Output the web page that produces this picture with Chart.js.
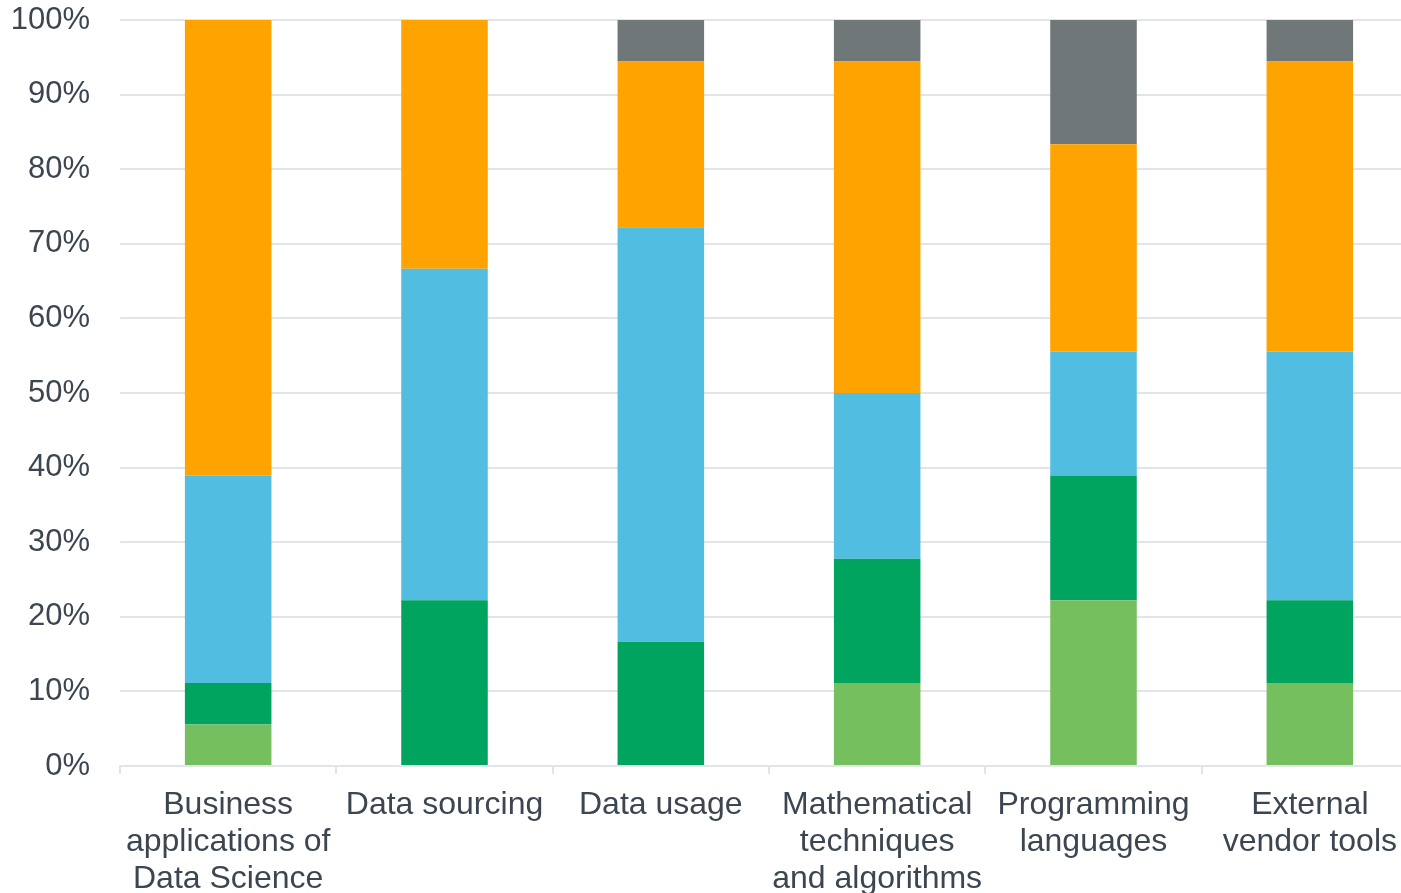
<!DOCTYPE html>
<html>
<head>
<meta charset="utf-8">
<script src="https://cdn.jsdelivr.net/npm/chart.js@4/dist/chart.umd.min.js"></script>
<style>
  html, body { margin: 0; padding: 0; background: #ffffff; }
  /* the original is cropped on the right: draw a bit wider and clip */
  #frame { width: 1401px; height: 893px; overflow: hidden; }
  #wrap { width: 1418px; height: 893px; position: relative; }
</style>
</head>
<body>
<div id="frame"><div id="wrap"><canvas id="skills-chart"></canvas></div></div>
<script>
// Categories (multi-line labels as shown under each bar).
var categories = [
    ['Business', 'applications of', 'Data Science'],
    ['Data sourcing'],
    ['Data usage'],
    ['Mathematical', 'techniques', 'and algorithms'],
    ['Programming', 'languages'],
    ['External', 'vendor tools']
];

// Share of respondents per level, in percent (bottom to top).
var level1 = [5.56, 0, 0, 11.11, 22.22, 11.11];
var level2 = [5.56, 22.22, 16.67, 16.67, 16.67, 11.11];
var level3 = [27.78, 44.44, 55.56, 22.22, 16.67, 33.33];
var level4 = [61.11, 33.33, 22.22, 44.44, 27.78, 38.89];
var level5 = [0, 0, 5.56, 5.56, 16.67, 5.56];

var yTicks = [0, 10, 20, 30, 40, 50, 60, 70, 80, 90, 100];

(function() {
    'use strict';

    var textColor = '#3c4651';
    var gridColor = '#e1e4e8';
    var fontFamily = '"Liberation Sans", Arial, Helvetica, sans-serif';

    function series(label, data, color) {
        return {
            label: label,
            data: data,
            backgroundColor: color,
            borderWidth: 0,
            barPercentage: 0.4,
            categoryPercentage: 1.0
        };
    }

    var ctx = document.getElementById('skills-chart');
    new Chart(ctx.getContext('2d'), {
        type: 'bar',
        data: {
            labels: categories,
            datasets: [
                series('Level 1', level1, '#75bf5f'),
                series('Level 2', level2, '#00a45f'),
                series('Level 3', level3, '#51bde0'),
                series('Level 4', level4, '#ffa300'),
                series('Level 5', level5, '#6f7779')
            ]
        },
        options: {
            responsive: true,
            maintainAspectRatio: false,
            animation: false,
            layout: { padding: { left: 12, right: 0, top: 20, bottom: 0 } },
            plugins: {
                legend: { display: false },
                tooltip: { enabled: false }
            },
            scales: {
                x: {
                    stacked: true,
                    offset: true,
                    afterFit: function(axis) { axis.height = 127; },
                    grid: {
                        offset: true,
                        drawOnChartArea: false,
                        drawTicks: true,
                        tickLength: 8,
                        color: gridColor,
                        lineWidth: 2
                    },
                    border: { display: true, color: gridColor, width: 2 },
                    ticks: {
                        color: textColor,
                        font: { family: fontFamily, size: 32, lineHeight: 1.156 },
                        padding: 13,
                        maxRotation: 0,
                        autoSkip: false
                    }
                },
                y: {
                    stacked: true,
                    min: 0,
                    max: 100,
                    afterFit: function(axis) { axis.width = 108; },
                    afterBuildTicks: function(axis) {
                        axis.ticks = yTicks.map(function(v) { return { value: v }; });
                    },
                    grid: {
                        drawTicks: true,
                        tickLength: 30,
                        tickColor: 'rgba(0,0,0,0)',
                        color: gridColor,
                        lineWidth: 2
                    },
                    border: { display: false },
                    ticks: {
                        color: textColor,
                        font: { family: fontFamily, size: 31 },
                        padding: 0,
                        callback: function(v) { return v + '%'; }
                    }
                }
            }
        }
    });
})();
</script>
</body>
</html>
